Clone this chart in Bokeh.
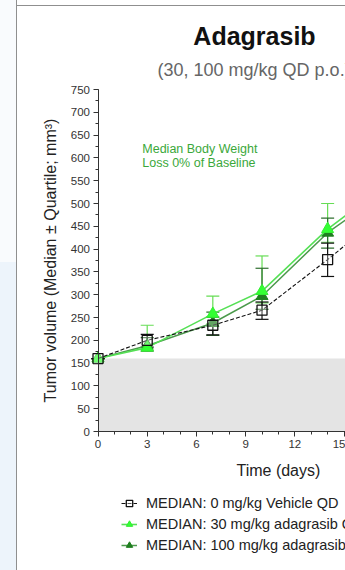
from bokeh.plotting import figure
from bokeh.models import (Range1d, FixedTicker, Whisker, TeeHead, ColumnDataSource,
                          BoxAnnotation, Label, Legend, LegendItem)
from bokeh.embed import file_html
from bokeh.resources import INLINE

# ---------------- data ----------------
days = [0, 3, 7, 10, 14, 17]

veh_med = [160, 200, 233, 266, 377, 465]
veh_q1 = [160, 185, 212, 246, 340, 420]
veh_q3 = [160, 213, 251, 284, 413, 515]

a30_med = [160, 184, 258, 308, 444, 525]
a30_q1 = [160, 176, 236, 282, 415, 480]
a30_q3 = [160, 233, 297, 385, 500, 590]

a100_med = [160, 188, 238, 297, 436, 512]
a100_q1 = [160, 177, 211, 268, 402, 470]
a100_q3 = [160, 206, 262, 358, 468, 560]

baseline = 160

x_ticks = [0, 3, 6, 9, 12, 15]
x_minor = list(range(0, 16))
y_ticks = list(range(0, 751, 50))
y_minor = list(range(0, 751, 25))

series_labels = ["MEDIAN: 0 mg/kg Vehicle QD",
                 "MEDIAN: 30 mg/kg adagrasib QD",
                 "MEDIAN: 100 mg/kg adagrasib QD"]

title_text = "Adagrasib"
subtitle_text = "(30, 100 mg/kg QD p.o.)"
note_lines = ["Median Body Weight", "Loss 0% of Baseline"]
y_label = "Tumor volume (Median \u00b1 Quartile; mm\u00b3)"
x_label = "Time (days)"

FONT = "Liberation Sans"

# the frame covers the whole canvas; axes sit at x=0 / y=0
p = figure(width=345, height=570, output_backend="svg", toolbar_location=None,
           x_range=Range1d(-5.945, 15.09), y_range=Range1d(-304.8, 945.2),
           min_border=0)
p.background_fill_alpha = 0
p.border_fill_alpha = 0
p.outline_line_color = None
p.grid.visible = False
p.styles = {
    "background":
        "linear-gradient(to right, transparent 16px, #8f8f8f 16px, #8f8f8f 17px, transparent 17px), "
        "linear-gradient(to bottom, #f9fbfd 262px, #edf4fb 262px) 0 0 / 16px 100% no-repeat, "
        "linear-gradient(to bottom, transparent 5px, #8f8f8f 5px, #8f8f8f 6px, transparent 6px), "
        "#ffffff"
}

# gray baseline region
p.add_layout(BoxAnnotation(left=0, bottom=0, top=baseline, fill_color="#e4e4e4",
                           fill_alpha=1, line_color=None, level="underlay"))

# axes
xa = p.xaxis[0]
xa.ticker = FixedTicker(ticks=x_ticks, minor_ticks=x_minor)
xa.fixed_location = 0
xa.bounds = (0, 16)
ya = p.yaxis[0]
ya.ticker = FixedTicker(ticks=y_ticks, minor_ticks=y_minor)
ya.fixed_location = 0
ya.bounds = (0, 750)
for ax in (xa, ya):
    ax.axis_line_color = "#333333"
    ax.major_tick_line_color = "#333333"
    ax.minor_tick_line_color = "#333333"
    ax.major_tick_in = 0
    ax.major_tick_out = 5
    ax.minor_tick_in = 0
    ax.minor_tick_out = 3
    ax.major_label_text_font = FONT
    ax.major_label_text_font_size = "11.5px"
    ax.major_label_text_color = "#333333"
    ax.major_label_standoff = 3
ya.axis_label = y_label
ya.axis_label_text_font = FONT
ya.axis_label_text_font_size = "16px"
ya.axis_label_text_font_style = "normal"
ya.axis_label_text_color = "#222222"
ya.axis_label_standoff = 9

# error bars
def whisker(q1, q3, color):
    src = ColumnDataSource(dict(x=days, lo=q1, hi=q3))
    w = Whisker(source=src, base="x", lower="lo", upper="hi", line_color=color,
                line_width=1.2,
                upper_head=TeeHead(size=13, line_color=color, line_width=1.2),
                lower_head=TeeHead(size=13, line_color=color, line_width=1.2))
    p.add_layout(w)

whisker(a30_q1, a30_q3, "#66dd55")
whisker(a100_q1, a100_q3, "#2f6f2f")
whisker(veh_q1, veh_q3, "#111111")

# series
l100 = p.line(days, a100_med, line_color="#4c9a4c", line_width=1.5)
s100 = p.scatter(days, a100_med, marker="triangle", size=12, fill_color="#1f7f1f",
                 line_color="#1f7f1f")
l30 = p.line(days, a30_med, line_color="#55e055", line_width=1.6)
s30 = p.scatter(days, a30_med, marker="triangle", size=12, fill_color="#33ff33",
                line_color="#33ee33")
lv = p.line(days, veh_med, line_color="#111111", line_width=1.1, line_dash="4 2")
sv = p.scatter(days, veh_med, marker="square", size=10, fill_color="white",
               fill_alpha=0.3, line_color="#111111", line_width=1.3)

def label(x, y, text, size, color, align="left", style="normal"):
    p.add_layout(Label(x=x, y=y, text=text, text_align=align, text_baseline="middle",
                       text_font=FONT, text_font_size=size, text_font_style=style,
                       text_color=color))

label(2.70, 620.5, note_lines[0], "12.5px", "#3aa83a")
label(2.70, 588.5, note_lines[1], "12.5px", "#3aa83a")
label(9.54, 868, title_text, "25px", "#111111", align="center", style="bold")
label(3.63, 792, subtitle_text, "18px", "#666666")
label(11.0, -85.5, x_label, "16px", "#222222", align="center")

legend = Legend(items=[LegendItem(label=series_labels[0], renderers=[lv, sv]),
                       LegendItem(label=series_labels[1], renderers=[l30, s30]),
                       LegendItem(label=series_labels[2], renderers=[l100, s100])],
                location=(121, 15))
legend.label_text_font = FONT
legend.label_text_font_size = "14.5px"
legend.label_text_color = "#222222"
legend.glyph_width = 16
legend.glyph_height = 20
legend.label_height = 20
legend.spacing = 1
legend.padding = 0
legend.margin = 0
legend.label_standoff = 9
legend.border_line_color = None
legend.background_fill_alpha = 0
p.add_layout(legend)

open("out.html", "w").write(file_html(p, INLINE))
